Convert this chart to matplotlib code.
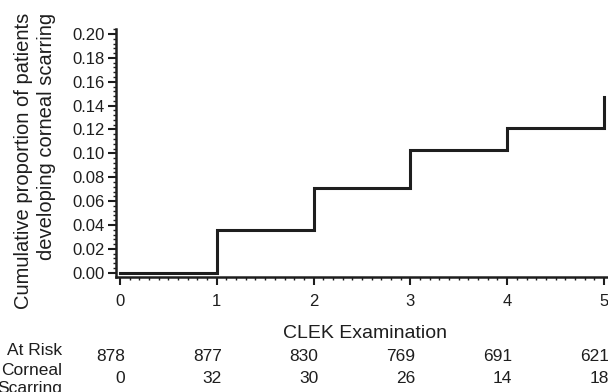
import matplotlib
matplotlib.use("Agg")
import matplotlib.pyplot as plt
import matplotlib.transforms as mtransforms
from matplotlib.ticker import MultipleLocator, FormatStrFormatter

# ---- data ----
exams = [0, 1, 2, 3, 4, 5]
cum_prop = [0.0, 0.036, 0.071, 0.103, 0.121, 0.147]
at_risk = [878, 877, 830, 769, 691, 621]
scarring = [0, 32, 30, 26, 14, 18]
y_ticks = [0.00, 0.02, 0.04, 0.06, 0.08, 0.10, 0.12, 0.14, 0.16, 0.18, 0.20]

plt.rcParams['font.family'] = ['Liberation Sans', 'DejaVu Sans']
ink = '#1e1e1e'

fig = plt.figure(figsize=(6.08, 3.92), dpi=100)
ax = fig.add_axes([0.18997, 0.29337, 0.8193, 0.63265])

ax.plot(exams, cum_prop, drawstyle='steps-post', color=ink, lw=2.2,
        solid_joinstyle='miter', clip_on=False)

ax.set_xlim(-0.046, 5.1)
ax.set_ylim(-0.0036, 0.2042)
ax.set_xticks(exams)
ax.set_yticks(y_ticks)
ax.yaxis.set_major_formatter(FormatStrFormatter('%.2f'))
ax.xaxis.set_minor_locator(MultipleLocator(0.1))
ax.yaxis.set_minor_locator(MultipleLocator(0.004))

for s in ['top', 'right']:
    ax.spines[s].set_visible(False)
for s in ['left', 'bottom']:
    ax.spines[s].set_linewidth(1.8)
    ax.spines[s].set_color(ink)

ax.tick_params(axis='both', which='major', direction='out', length=5.5,
               width=1.5, color=ink, labelsize=12, labelcolor=ink)
ax.tick_params(axis='y', which='major', pad=2.5)
ax.tick_params(axis='x', which='major', pad=7)
ax.tick_params(axis='both', which='minor', direction='out', length=2,
               width=1, color=ink)

ax.set_xlabel('CLEK Examination', fontsize=14, color=ink, labelpad=11)

fig.text(0.058, 0.967, 'Cumulative proportion of patients\ndeveloping corneal scarring',
         rotation=90, ha='center', va='top', multialignment='right',
         fontsize=14.5, color=ink, linespacing=1.25)

# at-risk table
fig.text(0.1015, 0.1046, 'At Risk', ha='right', va='center', fontsize=12.5, color=ink)
fig.text(0.1015, 0.0561, 'Corneal', ha='right', va='center', fontsize=12.5, color=ink)
fig.text(0.1015, 0.0077, 'Scarring', ha='right', va='center', fontsize=12.5, color=ink)

trans = mtransforms.blended_transform_factory(ax.transData, fig.transFigure)
off = mtransforms.ScaledTranslation(5 / 100, 0, fig.dpi_scale_trans)
for x, r, c in zip(exams, at_risk, scarring):
    fig.text(x, 0.0893, str(r), transform=trans + off, ha='right', va='center',
             fontsize=12.5, color=ink)
    fig.text(x, 0.0332, str(c), transform=trans + off, ha='right', va='center',
             fontsize=12.5, color=ink)

fig.savefig('out.png', dpi=100)
